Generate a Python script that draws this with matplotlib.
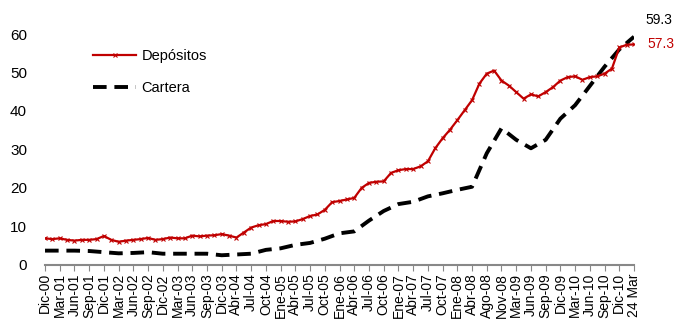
import matplotlib
matplotlib.use('Agg')
import matplotlib.pyplot as plt

plt.rcParams['font.family'] = ['Liberation Sans', 'DejaVu Sans']

labels = ['Dic-00', 'Mar-01', 'Jun-01', 'Sep-01', 'Dic-01', 'Mar-02', 'Jun-02', 'Sep-02',
          'Dic-02', 'Mar-03', 'Jun-03', 'Sep-03', 'Dic-03', 'Abr-04', 'Jul-04', 'Oct-04',
          'Ene-05', 'Abr-05', 'Jul-05', 'Oct-05', 'Ene-06', 'Abr-06', 'Jul-06', 'Oct-06',
          'Ene-07', 'Abr-07', 'Jul-07', 'Oct-07', 'Ene-08', 'Abr-08', 'Ago-08', 'Nov-08',
          'Mar-09', 'Jun-09', 'Sep-09', 'Dic-09', 'Mar-10', 'Jun-10', 'Sep-10', 'Dic-10',
          '24 Mar']

# Depositos: two readings per label interval
depositos = [6.9, 6.7, 6.9, 6.5, 6.3, 6.5, 6.5, 6.7, 7.5, 6.5,
             6.0, 6.3, 6.5, 6.7, 7.0, 6.5, 6.7, 7.1, 6.9, 6.9,
             7.6, 7.4, 7.6, 7.7, 8.0, 7.6, 7.1, 8.4, 9.7, 10.3,
             10.6, 11.4, 11.4, 11.2, 11.3, 11.9, 12.7, 13.1, 14.3, 16.3,
             16.6, 17.0, 17.4, 20.0, 21.3, 21.6, 21.7, 23.9, 24.6, 24.9,
             24.9, 25.6, 26.9, 30.3, 32.9, 35.1, 37.6, 40.2, 42.8, 47.1,
             49.7, 50.5, 47.9, 46.6, 44.9, 43.2, 44.3, 43.8, 44.9, 46.2,
             47.9, 48.8, 49.0, 48.1, 48.8, 49.0, 49.7, 51.0, 56.5, 57.2,
             57.3]

# Cartera: one reading per label
cartera = [3.7, 3.7, 3.7, 3.6, 3.3, 3.0, 3.1, 3.3, 2.9, 2.9,
           2.9, 2.9, 2.5, 2.7, 2.9, 3.9, 4.3, 5.2, 5.7, 6.8,
           8.2, 8.7, 11.5, 14.0, 15.8, 16.4, 17.8, 18.6, 19.5, 20.3,
           29.0, 35.5, 32.5, 30.3, 32.5, 38.0, 41.5, 46.5, 51.5, 56.0,
           59.3]

x_dep = [i * 1.5 for i in range(len(depositos))]
x_car = [i * 3 for i in range(len(cartera))]
x_lab = [i * 3 for i in range(len(labels))]

red = '#C00000'

fig = plt.figure(figsize=(6.77, 3.27), dpi=100)
ax = fig.add_axes([0.0665, 0.19, 0.87, 0.706])

ax.plot(x_dep, depositos, color=red, lw=1.6, marker='x', ms=3, mew=0.8,
        label='Depósitos', zorder=3)
ax.plot(x_car, cartera, color='black', lw=2.8, ls=(0, (3.5, 2)),
        label='Cartera', zorder=2)

ax.annotate(f'{cartera[-1]:.1f}', (x_car[-1], cartera[-1]), xytext=(8, 12),
            textcoords='offset points', fontsize=10, color='black', va='center')
ax.annotate(f'{depositos[-1]:.1f}', (x_dep[-1], depositos[-1]), xytext=(10, 0),
            textcoords='offset points', fontsize=10, color=red, va='center')

ax.set_xlim(0, 120)
ax.set_ylim(0, 60)
ax.set_yticks(range(0, 61, 10))
ax.set_xticks(x_lab)
ax.set_xticklabels(labels, rotation=90, fontsize=10)

for s in ['top', 'right', 'left']:
    ax.spines[s].set_visible(False)
ax.spines['bottom'].set_color('#888888')
ax.spines['bottom'].set_linewidth(1.5)
ax.tick_params(axis='x', colors='#888888', length=4, width=0.8, pad=2, labelcolor='black')
ax.tick_params(axis='y', length=0, labelsize=11, pad=13)

ax.legend(loc='upper left', bbox_to_anchor=(0.06, 0.99), frameon=False,
          fontsize=10.5, handlelength=2.9, labelspacing=1.2, handletextpad=0.4)

fig.savefig('out.png', dpi=100)
